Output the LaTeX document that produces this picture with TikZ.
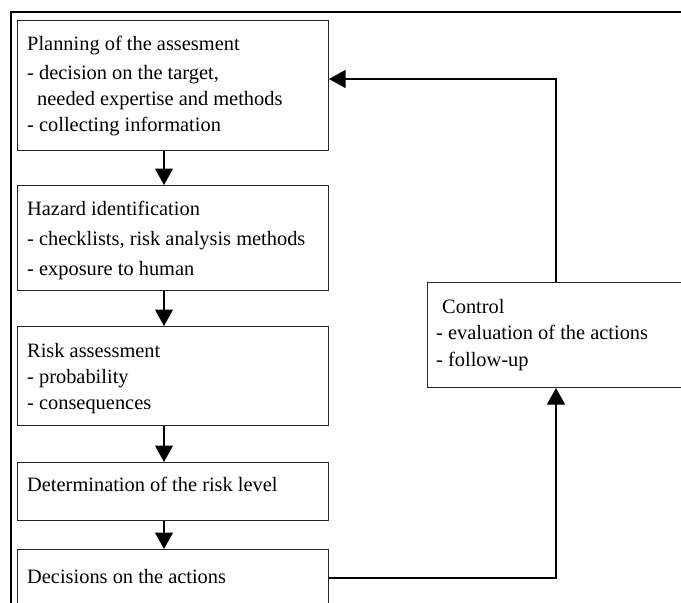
\documentclass[tikz,border=0pt]{standalone}
\usepackage{fontspec}
\setmainfont{Liberation Serif}
\usetikzlibrary{arrows.meta}
\begin{document}
\begin{tikzpicture}[x=1pt,y=-1pt,
  box/.style={draw=black!85,line width=1pt,rectangle,inner sep=0pt,anchor=north west},
  txt/.style={anchor=base west,inner sep=0pt,font=\fontsize{20.4}{26}\selectfont},
  arr/.style={line width=1.3pt,-{Triangle[width=18pt,length=16.5pt]}},
  frame/.style={line width=2.2pt}]
\useasboundingbox (0,0) rectangle (681,603);
\clip (0,0) rectangle (681,603);
\fill[white] (0,0) rectangle (681,603);
% outer frame
\draw[frame] (11,620) -- (11,12) -- (700,12);
% boxes
\node[box,minimum width=311pt,minimum height=130pt] (b1) at (17,20) {};
\node[box,minimum width=311pt,minimum height=105pt] (b2) at (17,185) {};
\node[box,minimum width=311pt,minimum height=99pt] (b3) at (17,326) {};
\node[box,minimum width=311pt,minimum height=58pt] (b4) at (17,462) {};
\node[box,minimum width=311pt,minimum height=80pt] (b5) at (17,549) {};
\node[box,minimum width=300pt,minimum height=105pt] (ctrl) at (427,282) {};
% texts
\node[txt] (t1a) at (27,50) {Planning of the assesment};
\node[txt] (t1b) at (27,79) {- decision on the target,};
\node[txt] (t1c) at (37,105) {needed expertise and methods};
\node[txt] (t1d) at (27,131) {- collecting information};
\node[txt] (t2a) at (27,215) {Hazard identification};
\node[txt] (t2b) at (27,245) {- checklists, risk analysis methods};
\node[txt] (t2c) at (27,275) {- exposure to human};
\node[txt] (t3a) at (27,357) {Risk assessment};
\node[txt] (t3b) at (27,383) {- probability};
\node[txt] (t3c) at (27,409) {- consequences};
\node[txt] (t4a) at (27,491) {Determination of the risk level};
\node[txt] (t5a) at (27,583) {Decisions on the actions};
\node[txt] (tca) at (442,313) {Control};
\node[txt] (tcb) at (436,339) {- evaluation of the actions};
\node[txt] (tcc) at (436,366) {- follow-up};
% arrows
\coordinate (ax) at (164,0);
\draw[arr] (b1.south -| ax) -- (b2.north -| ax);
\draw[arr] (b2.south -| ax) -- (b3.north -| ax);
\draw[arr] (b3.south -| ax) -- (b4.north -| ax);
\draw[arr] (b4.south -| ax) -- (b5.north -| ax);
\coordinate (fb1) at (556,79);
\coordinate (fb2) at (556,578);
\draw[arr] (ctrl.north -| fb1) |- (b1.east |- fb1);
\draw[arr] (b5.east |- fb2) -| (ctrl.south -| fb2);
\end{tikzpicture}
\end{document}
